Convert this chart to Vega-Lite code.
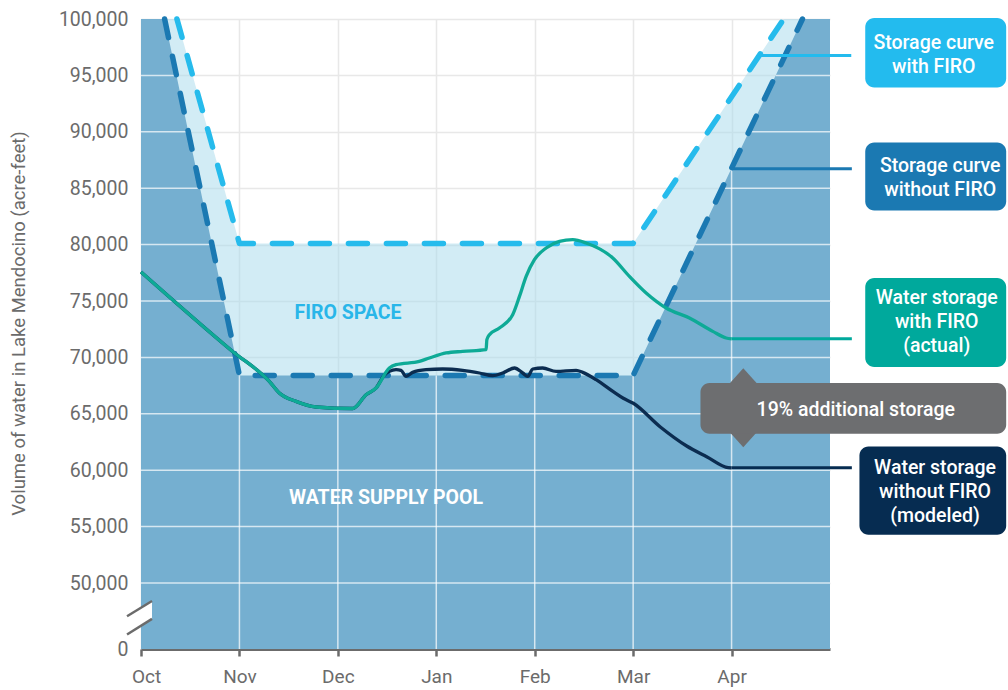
{
  "$schema": "https://vega.github.io/schema/vega-lite/v6.json",
  "width": 689,
  "height": 630,
  "autosize": {"type": "none"},
  "padding": {"left": 141, "top": 19, "right": 178, "bottom": 41},
  "background": "white",
  "config": {
    "view": {"stroke": null},
    "font": "Roboto",
    "text": {"font": "Roboto"}
  },
  "datasets": {
    "firoArea": [
      {"m": 0, "v": 100000}, {"m": 0.365, "v": 100000}, {"m": 1.0, "v": 80100},
      {"m": 5.0, "v": 80100}, {"m": 6.53, "v": 100000}, {"m": 7, "v": 100000}
    ],
    "poolArea": [
      {"m": 0, "v": 100000}, {"m": 0.24, "v": 100000}, {"m": 1.0, "v": 68400},
      {"m": 5.0, "v": 68400}, {"m": 6.72, "v": 100000}, {"m": 7, "v": 100000}
    ],
    "firoCurve": [
      {"m": 0.365, "v": 100000}, {"m": 1.0, "v": 80100}, {"m": 5.0, "v": 80100}, {"m": 6.53, "v": 100000}
    ],
    "baseCurve": [
      {"m": 0.24, "v": 100000}, {"m": 1.0, "v": 68400}, {"m": 5.0, "v": 68400}, {"m": 6.72, "v": 100000}
    ],
    "whiteGrid": [
      {"m": 0, "m2": 7, "v": 50000, "v2": 50000},
      {"m": 0, "m2": 7, "v": 55000, "v2": 55000},
      {"m": 0, "m2": 7, "v": 60000, "v2": 60000},
      {"m": 0, "m2": 7, "v": 65000, "v2": 65000},
      {"m": 0, "m2": 0.9615, "v": 70000, "v2": 70000},
      {"m": 5.087, "m2": 7, "v": 70000, "v2": 70000},
      {"m": 0, "m2": 0.8413, "v": 75000, "v2": 75000},
      {"m": 5.359, "m2": 7, "v": 75000, "v2": 75000},
      {"m": 0, "m2": 0.721, "v": 80000, "v2": 80000},
      {"m": 5.631, "m2": 7, "v": 80000, "v2": 80000},
      {"m": 0, "m2": 0.6008, "v": 85000, "v2": 85000},
      {"m": 5.904, "m2": 7, "v": 85000, "v2": 85000},
      {"m": 0, "m2": 0.4805, "v": 90000, "v2": 90000},
      {"m": 6.176, "m2": 7, "v": 90000, "v2": 90000},
      {"m": 0, "m2": 0.3602, "v": 95000, "v2": 95000},
      {"m": 6.448, "m2": 7, "v": 95000, "v2": 95000},
      {"m": 1, "m2": 1, "v": 0, "v2": 68400},
      {"m": 2, "m2": 2, "v": 0, "v2": 68400},
      {"m": 3, "m2": 3, "v": 0, "v2": 68400},
      {"m": 4, "m2": 4, "v": 0, "v2": 68400},
      {"m": 5, "m2": 5, "v": 0, "v2": 68400},
      {"m": 6, "m2": 6, "v": 0, "v2": 86772}
    ],
    "breakFill": [
      {"m": -0.142, "v": 11000, "v2": 24850},
      {"m": 0.112, "v": 22850, "v2": 36400}
    ],
    "breakLines": [
      {"m": -0.142, "m2": 0.112, "v": 24850, "v2": 36400},
      {"m": -0.142, "m2": 0.112, "v": 11000, "v2": 22850}
    ],
    "teal": [
      {"m": 0, "v": 77580}, {"m": 0.931, "v": 70530}, {"m": 1.304, "v": 67870},
      {"m": 1.405, "v": 66845}, {"m": 1.575, "v": 66100}, {"m": 1.778, "v": 65604},
      {"m": 2.15, "v": 65470}, {"m": 2.287, "v": 66694}, {"m": 2.388, "v": 67288},
      {"m": 2.523, "v": 69061}, {"m": 2.591, "v": 69354}, {"m": 2.828, "v": 69646},
      {"m": 2.93, "v": 69948}, {"m": 3.1, "v": 70391}, {"m": 3.268, "v": 70533},
      {"m": 3.506, "v": 70683}, {"m": 3.514, "v": 71570}, {"m": 3.54, "v": 72013},
      {"m": 3.641, "v": 72607}, {"m": 3.776, "v": 73786}, {"m": 3.845, "v": 75408},
      {"m": 3.913, "v": 77182}, {"m": 3.997, "v": 78662}, {"m": 4.116, "v": 79700},
      {"m": 4.251, "v": 80285}, {"m": 4.386, "v": 80435}, {"m": 4.522, "v": 80143},
      {"m": 4.793, "v": 78813}, {"m": 4.962, "v": 77182}, {"m": 5.132, "v": 75710},
      {"m": 5.335, "v": 74380}, {"m": 5.572, "v": 73494}, {"m": 5.809, "v": 72306},
      {"m": 5.945, "v": 71721}, {"m": 6.0, "v": 71650}
    ],
    "navy": [
      {"m": 0, "v": 77580}, {"m": 0.931, "v": 70530}, {"m": 1.304, "v": 67870},
      {"m": 1.405, "v": 66845}, {"m": 1.575, "v": 66100}, {"m": 1.778, "v": 65604},
      {"m": 2.15, "v": 65470}, {"m": 2.287, "v": 66694}, {"m": 2.388, "v": 67288},
      {"m": 2.47, "v": 68400}, {"m": 2.523, "v": 68760}, {"m": 2.591, "v": 68910},
      {"m": 2.642, "v": 68850}, {"m": 2.693, "v": 68316}, {"m": 2.76, "v": 68671},
      {"m": 2.896, "v": 68910}, {"m": 3.065, "v": 68972}, {"m": 3.268, "v": 68850},
      {"m": 3.438, "v": 68617}, {"m": 3.573, "v": 68378}, {"m": 3.675, "v": 68617},
      {"m": 3.794, "v": 69060}, {"m": 3.878, "v": 68617}, {"m": 3.929, "v": 68316},
      {"m": 3.98, "v": 68972}, {"m": 4.081, "v": 69061}, {"m": 4.217, "v": 68760},
      {"m": 4.421, "v": 68850}, {"m": 4.488, "v": 68670}, {"m": 4.624, "v": 68024},
      {"m": 4.798, "v": 66960}, {"m": 4.9, "v": 66375}, {"m": 5.002, "v": 65932},
      {"m": 5.273, "v": 63857}, {"m": 5.544, "v": 62146}, {"m": 5.747, "v": 61198},
      {"m": 5.967, "v": 60223}, {"m": 6.0, "v": 60210}
    ],
    "connectors": [
      {"name": "fw", "m": 6.282, "m2": 7.216, "v": 96773},
      {"name": "fwo", "m": 6.0, "m2": 7.222, "v": 86730},
      {"name": "act", "m": 6.0, "m2": 7.222, "v": 71650},
      {"name": "mod", "m": 6.0, "m2": 7.222, "v": 60210}
    ],
    "arrow": [{"m": 6.119, "v": 65533}],
    "boxes": [
      {"name": "fw", "m": 7.358, "m2": 8.79, "v": 100089, "v2": 93936},
      {"name": "fwo", "m": 7.358, "m2": 8.79, "v": 89060, "v2": 83033},
      {"name": "act", "m": 7.358, "m2": 8.79, "v": 77040, "v2": 69150},
      {"name": "add", "m": 5.684, "m2": 8.79, "v": 67731, "v2": 63236},
      {"name": "mod", "m": 7.299, "m2": 8.79, "v": 62111, "v2": 54283}
    ],
    "boxText": [
      {"m": 8.054, "v": 97846, "label": "Storage curve\nwith FIRO"},
      {"m": 8.12, "v": 86968, "label": "Storage curve\nwithout FIRO"},
      {"m": 8.084, "v": 75240, "label": "Water storage\nwith FIRO\n(actual)"},
      {"m": 7.262, "v": 65337, "label": "19% additional storage"},
      {"m": 8.067, "v": 60169, "label": "Water storage\nwithout FIRO\n(modeled)"}
    ],
    "firoLabel": [{"m": 2.103, "v": 73937, "label": "FIRO SPACE"}],
    "poolLabel": [{"m": 2.489, "v": 57537, "label": "WATER SUPPLY POOL"}]
  },
  "encoding": {
    "x": {
      "field": "m", "type": "quantitative",
      "scale": {"domain": [0, 7], "nice": false, "zero": false},
      "axis": {
        "title": null,
        "values": [0, 1, 2, 3, 4, 5, 6],
        "labelExpr": "['Oct','Nov','Dec','Jan','Feb','Mar','Apr'][datum.value]",
        "labelFontSize": 19, "labelColor": "#6b6b6b", "labelPadding": 11,
        "labelFlush": false,
        "labelOffset": {"condition": {"test": "datum.value == 0", "value": 5}, "value": 0},
        "grid": true, "gridColor": "#e8e8e8", "gridWidth": 1.5,
        "domainColor": "#6b6b6b", "domainWidth": 3,
        "tickColor": "#6b6b6b", "tickWidth": 2.5, "tickSize": 7
      }
    },
    "y": {
      "field": "v", "type": "quantitative",
      "scale": {"domain": [0, 50000, 100000], "range": [630, 564, 0], "nice": false, "zero": false},
      "axis": {
        "title": "Volume of water in Lake Mendocino (acre-feet)",
        "titleFontSize": 18.5, "titleFontWeight": "normal", "titleColor": "#6b6b6b",
        "titleAngle": -90, "titleX": -123, "titleY": 304, "titleAlign": "center", "titleBaseline": "middle",
        "values": [0, 50000, 55000, 60000, 65000, 70000, 75000, 80000, 85000, 90000, 95000, 100000],
        "labelExpr": "format(datum.value, ',.0f')",
        "labelFontSize": 19.5, "labelColor": "#6b6b6b", "labelPadding": 13,
        "labelFlush": false,
        "ticks": false, "tickSize": 0, "domain": false,
        "grid": true, "gridColor": "#e8e8e8", "gridWidth": 1.5
      }
    }
  },
  "layer": [
    {"data": {"name": "firoArea"}, "mark": {"type": "area", "color": "#A5D9EB", "opacity": 0.5}},
    {"data": {"name": "poolArea"}, "mark": {"type": "area", "color": "#75AFD0", "opacity": 1}},
    {
      "data": {"name": "whiteGrid"},
      "mark": {"type": "rule", "color": "white", "opacity": 0.7, "strokeWidth": 1.5},
      "encoding": {"x2": {"field": "m2"}, "y2": {"field": "v2"}}
    },
    {
      "data": {"name": "breakFill"},
      "mark": {"type": "area", "color": "white", "opacity": 1},
      "encoding": {"y2": {"field": "v2"}}
    },
    {
      "data": {"name": "breakLines"},
      "mark": {"type": "rule", "color": "#6b6b6b", "strokeWidth": 2.5},
      "encoding": {"x2": {"field": "m2"}, "y2": {"field": "v2"}}
    },
    {
      "data": {"name": "firoCurve"},
      "mark": {"type": "line", "color": "#26BBEC", "strokeWidth": 5.5, "strokeDash": [19, 19], "strokeCap": "round", "strokeJoin": "round"}
    },
    {
      "data": {"name": "baseCurve"},
      "mark": {"type": "line", "color": "#1B79B2", "strokeWidth": 5.5, "strokeDash": [19, 19], "strokeCap": "round", "strokeJoin": "round"}
    },
    {
      "data": {"name": "navy"},
      "mark": {"type": "line", "color": "#0B2C50", "strokeWidth": 3.3, "interpolate": "monotone"}
    },
    {
      "data": {"name": "teal"},
      "mark": {"type": "line", "color": "#0EAA96", "strokeWidth": 3.3, "interpolate": "monotone"}
    },
    {
      "data": {"name": "connectors"},
      "mark": {"type": "rule", "strokeWidth": 3},
      "encoding": {
        "x2": {"field": "m2"},
        "color": {"field": "name", "type": "nominal", "legend": null,
          "scale": {"domain": ["fw", "fwo", "act", "add", "mod"], "range": ["#23BBEE", "#1B79B2", "#00A99C", "#6D6E70", "#062C51"]}}
      }
    },
    {
      "data": {"name": "arrow"},
      "mark": {"type": "point", "filled": true, "opacity": 1, "color": "#6D6E70", "size": 6241, "shape": "M0,-1L0.9,0L0,1L-0.9,0Z", "strokeWidth": 0}
    },
    {
      "data": {"name": "boxes"},
      "mark": {"type": "rect", "cornerRadius": 9},
      "encoding": {
        "x2": {"field": "m2"}, "y2": {"field": "v2"},
        "color": {"field": "name", "type": "nominal", "legend": null,
          "scale": {"domain": ["fw", "fwo", "act", "add", "mod"], "range": ["#23BBEE", "#1B79B2", "#00A99C", "#6D6E70", "#062C51"]}}
      }
    },
    {
      "data": {"name": "boxText"},
      "mark": {"type": "text", "color": "white", "fontSize": 19.5, "fontWeight": 500, "align": "center", "baseline": "middle", "lineBreak": "\n", "lineHeight": 23.7},
      "encoding": {"text": {"field": "label"}}
    },
    {
      "data": {"name": "firoLabel"},
      "mark": {"type": "text", "color": "#29B6E9", "fontSize": 19.5, "fontWeight": "bold", "align": "center", "baseline": "middle"},
      "encoding": {"text": {"field": "label"}}
    },
    {
      "data": {"name": "poolLabel"},
      "mark": {"type": "text", "color": "white", "fontSize": 19.5, "fontWeight": "bold", "align": "center", "baseline": "middle"},
      "encoding": {"text": {"field": "label"}}
    }
  ]
}
